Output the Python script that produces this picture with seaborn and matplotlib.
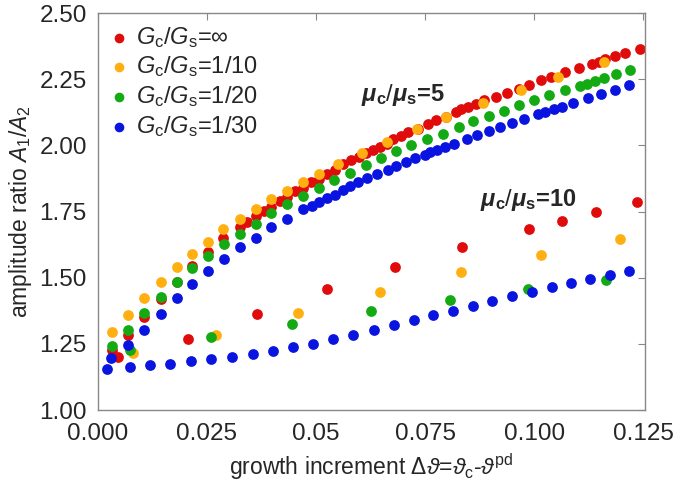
import numpy as np
import pandas as pd
import seaborn as sns
import matplotlib.pyplot as plt

# growth increment / amplitude ratio, mu_c/mu_s = 5 (upper curves)
red5_x = [0.0033, 0.0069, 0.0106, 0.0144, 0.0182, 0.0216, 0.0253, 0.0288, 0.0325, 0.0343,
          0.0362, 0.0380, 0.0398, 0.0417, 0.0434, 0.0453, 0.0470, 0.0489, 0.0508, 0.0526,
          0.0544, 0.0563, 0.0580, 0.0598, 0.0615, 0.0630, 0.0646, 0.0662, 0.0676, 0.0694,
          0.0711, 0.0734, 0.0757, 0.0776, 0.0798, 0.0821, 0.0833, 0.0848, 0.0867, 0.0886,
          0.0912, 0.0939, 0.0966, 0.0988, 0.1015, 0.1038, 0.1072, 0.1102, 0.1133, 0.1148,
          0.1163, 0.1186, 0.1208, 0.1243]
red5_y = [1.227, 1.283, 1.350, 1.418, 1.485, 1.545, 1.597, 1.651, 1.692, 1.711,
          1.733, 1.754, 1.768, 1.791, 1.806, 1.829, 1.841, 1.862, 1.875, 1.893,
          1.907, 1.930, 1.944, 1.957, 1.970, 1.982, 1.995, 2.007, 2.023, 2.035,
          2.049, 2.064, 2.080, 2.096, 2.108, 2.127, 2.136, 2.146, 2.156, 2.171,
          2.184, 2.199, 2.215, 2.230, 2.247, 2.259, 2.278, 2.293, 2.309, 2.316,
          2.328, 2.337, 2.351, 2.366]

orange5_x = [0.0033, 0.0069, 0.0106, 0.0144, 0.0182, 0.0216, 0.0253, 0.0288, 0.0325, 0.0362,
             0.0398, 0.0434, 0.0470, 0.0506, 0.0551, 0.0606, 0.0662, 0.0731, 0.0798, 0.0884,
             0.0969, 0.1055, 0.1161]
orange5_y = [1.296, 1.359, 1.424, 1.485, 1.541, 1.589, 1.637, 1.684, 1.722, 1.758,
             1.796, 1.829, 1.861, 1.892, 1.929, 1.972, 2.012, 2.063, 2.108, 2.161,
             2.211, 2.259, 2.316]

green5_x = [0.0033, 0.0069, 0.0106, 0.0144, 0.0182, 0.0216, 0.0253, 0.0289, 0.0325, 0.0362,
            0.0398, 0.0434, 0.0470, 0.0506, 0.0542, 0.0577, 0.0614, 0.0648, 0.0684, 0.0719,
            0.0754, 0.0791, 0.0827, 0.0861, 0.0896, 0.0930, 0.0965, 0.1000, 0.1034, 0.1070,
            0.1105, 0.1121, 0.1139, 0.1160, 0.1187, 0.1220]
green5_y = [1.242, 1.302, 1.365, 1.428, 1.485, 1.535, 1.583, 1.627, 1.667, 1.705,
            1.743, 1.777, 1.810, 1.841, 1.869, 1.897, 1.926, 1.953, 1.978, 2.001,
            2.025, 2.045, 2.068, 2.091, 2.111, 2.131, 2.152, 2.171, 2.190, 2.209,
            2.225, 2.234, 2.244, 2.255, 2.269, 2.287]

blue5_x = [0.0030, 0.0069, 0.0106, 0.0144, 0.0182, 0.0216, 0.0253, 0.0290, 0.0325, 0.0362,
           0.0398, 0.0434, 0.0470, 0.0490, 0.0508, 0.0526, 0.0544, 0.0563, 0.0578, 0.0597,
           0.0618, 0.0641, 0.0664, 0.0684, 0.0706, 0.0728, 0.0749, 0.0762, 0.0778, 0.0796,
           0.0817, 0.0846, 0.0870, 0.0897, 0.0922, 0.0949, 0.0977, 0.1008, 0.1026, 0.1045,
           0.1065, 0.1089, 0.1123, 0.1153, 0.1186, 0.1217]
blue5_y = [1.195, 1.244, 1.302, 1.363, 1.422, 1.476, 1.526, 1.572, 1.615, 1.652,
           1.690, 1.723, 1.758, 1.770, 1.785, 1.800, 1.813, 1.832, 1.848, 1.862,
           1.877, 1.892, 1.907, 1.922, 1.936, 1.951, 1.964, 1.974, 1.983, 1.995,
           2.007, 2.024, 2.039, 2.055, 2.070, 2.085, 2.100, 2.118, 2.127, 2.137,
           2.147, 2.161, 2.178, 2.195, 2.211, 2.228]

# mu_c/mu_s = 10 (lower points)
red10_x = [0.0046, 0.0207, 0.0365, 0.0525, 0.0681, 0.0835, 0.0988, 0.1064, 0.1142, 0.1235]
red10_y = [1.201, 1.269, 1.363, 1.456, 1.539, 1.615, 1.684, 1.715, 1.747, 1.785]

orange10_x = [0.0080, 0.0271, 0.0459, 0.0647, 0.0832, 0.1016, 0.1197]
orange10_y = [1.214, 1.283, 1.365, 1.447, 1.520, 1.586, 1.645]

green10_x = [0.0073, 0.0259, 0.0444, 0.0626, 0.0808, 0.0985, 0.1165]
green10_y = [1.227, 1.275, 1.324, 1.374, 1.416, 1.457, 1.491]

blue10_x = [0.0022, 0.0073, 0.0120, 0.0166, 0.0214, 0.0260, 0.0308, 0.0356, 0.0401, 0.0447,
            0.0493, 0.0540, 0.0586, 0.0633, 0.0679, 0.0724, 0.0769, 0.0813, 0.0859, 0.0904,
            0.0949, 0.0995, 0.1040, 0.1085, 0.1129, 0.1173, 0.1217]
blue10_y = [1.157, 1.164, 1.170, 1.175, 1.184, 1.193, 1.201, 1.213, 1.225, 1.238,
            1.250, 1.267, 1.285, 1.302, 1.321, 1.340, 1.358, 1.376, 1.394, 1.412,
            1.430, 1.447, 1.464, 1.481, 1.496, 1.511, 1.526]

labels = [r'$G_\mathrm{c}/G_\mathrm{s}$=∞', r'$G_\mathrm{c}/G_\mathrm{s}$=1/10',
          r'$G_\mathrm{c}/G_\mathrm{s}$=1/20', r'$G_\mathrm{c}/G_\mathrm{s}$=1/30']
colors = ['#e00b0b', '#ffb010', '#14aa14', '#0a14e0']

xticks = [0.0, 0.025, 0.05, 0.075, 0.1, 0.125]
xticklabels = ['0.000', '0.025', '0.05', '0.075', '0.100', '0.125']
yticks = [1.0, 1.25, 1.5, 1.75, 2.0, 2.25, 2.5]
yticklabels = ['1.00', '1.25', '1.50', '1.75', '2.00', '2.25', '2.50']

sns.set_style("white")
plt.rcParams['font.family'] = ['Liberation Sans', 'DejaVu Sans']
plt.rcParams['mathtext.fontset'] = 'custom'
plt.rcParams['mathtext.rm'] = 'Liberation Sans'
plt.rcParams['mathtext.it'] = 'Liberation Sans:italic'
plt.rcParams['mathtext.bf'] = 'Liberation Sans:bold'
plt.rcParams['mathtext.bfit'] = 'Liberation Sans:italic:bold'

fig = plt.figure(figsize=(6.75, 4.87), dpi=100)
ax = fig.add_axes([0.145, 0.158, 0.811, 0.815])

series5 = [(red5_x, red5_y), (orange5_x, orange5_y), (green5_x, green5_y), (blue5_x, blue5_y)]
series10 = [(red10_x, red10_y), (orange10_x, orange10_y), (green10_x, green10_y), (blue10_x, blue10_y)]

for (x5, y5), (x10, y10), c, lab in zip(series5, series10, colors, labels):
    sns.scatterplot(x=x5, y=y5, color=c, s=60, linewidth=0, label=lab, ax=ax)
    sns.scatterplot(x=x10, y=y10, color=c, s=60, linewidth=0, ax=ax)

ax.set_xlim(0, 0.1255)
ax.set_ylim(1.0, 2.5)
ax.set_xticks(xticks)
ax.set_xticklabels(xticklabels)
ax.set_yticks(yticks)
ax.set_yticklabels(yticklabels)
ax.tick_params(direction='in', length=5, color='#888888', labelsize=17.5,
               top=True, right=True)
ax.tick_params(axis='x', pad=9)
ax.tick_params(axis='y', pad=8)
for sp in ax.spines.values():
    sp.set_color('#888888')
    sp.set_linewidth(1.0)

ax.set_xlabel(r'growth increment $\Delta\vartheta$=$\vartheta_\mathrm{c}$-$\vartheta^\mathrm{pd}$',
              fontsize=16.5, labelpad=5)
ax.set_ylabel(r'amplitude ratio $A_1/A_2$', fontsize=16.5, labelpad=4)

ax.text(0.0604, 2.19, r'$\mathbfit{\mu}_\mathbf{c}/\mathbfit{\mu}_\mathbf{s}$=5',
        fontsize=17, fontweight='bold', va='center')
ax.text(0.0877, 1.793, r'$\mathbfit{\mu}_\mathbf{c}/\mathbfit{\mu}_\mathbf{s}$=10',
        fontsize=17, fontweight='bold', va='center')

ax.legend(loc='upper left', frameon=False, fontsize=17, handlelength=0.8,
          handletextpad=0.3, labelspacing=0.2, borderaxespad=0.1, markerscale=0.9)

fig.savefig('out.png', dpi=100)
